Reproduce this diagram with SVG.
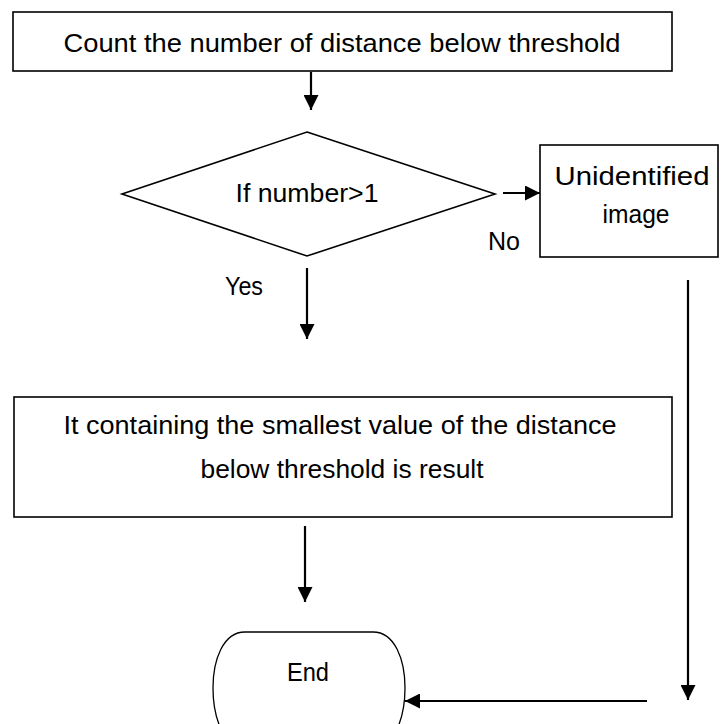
<svg xmlns="http://www.w3.org/2000/svg" width="725" height="724" viewBox="0 0 725 724">
<style>
.box{fill:#fff;stroke:#000;stroke-width:1.6}
.t{font-family:"Liberation Sans",Arial,sans-serif;font-size:26px;fill:#000}
.c{stroke:#000;stroke-width:2.2;fill:none}
</style>
<defs>
<marker id="ah" markerWidth="15" markerHeight="15" refX="15" refY="7.5" orient="auto" markerUnits="userSpaceOnUse" viewBox="0 0 15 15">
<path d="M0,0 L15,7.5 L0,15 Z" fill="#000"/>
</marker>
</defs>
<rect width="725" height="724" fill="#fff"/>
<g id="count">
<rect class="box" x="13" y="12" width="659" height="59"/>
<text class="t" x="342" y="52" text-anchor="middle" textLength="557" lengthAdjust="spacingAndGlyphs">Count the number of distance below threshold</text>
</g>
<g id="decision">
<polygon class="box" points="307,132 495,194 307,256 122,194"/>
<text class="t" x="307" y="202" text-anchor="middle" textLength="143" lengthAdjust="spacingAndGlyphs">If number&gt;1</text>
</g>
<g id="unidentified">
<rect class="box" x="540" y="145" width="178" height="112"/>
<text class="t" x="632" y="185" text-anchor="middle" textLength="155" lengthAdjust="spacingAndGlyphs">Unidentified</text>
<text class="t" x="636" y="223" text-anchor="middle" textLength="67" lengthAdjust="spacingAndGlyphs">image</text>
</g>
<g id="result">
<rect class="box" x="14" y="397" width="658" height="120"/>
<text class="t" x="340" y="434" text-anchor="middle" textLength="553" lengthAdjust="spacingAndGlyphs">It containing the smallest value of the distance</text>
<text class="t" x="342" y="478" text-anchor="middle" textLength="283" lengthAdjust="spacingAndGlyphs">below threshold is result</text>
</g>
<g id="end">
<path class="box" style="stroke-width:1.3" d="M245,632 H373 C395,632 405,660 405,688 C405,716 395,748 373,748 H245 C223,748 213,716 213,688 C213,660 223,632 245,632 Z"/>
<text class="t" x="308" y="681" text-anchor="middle" textLength="42" lengthAdjust="spacingAndGlyphs">End</text>
</g>
<g id="labels">
<text class="t" x="504" y="250" text-anchor="middle" textLength="32" lengthAdjust="spacingAndGlyphs">No</text>
<text class="t" x="244" y="295" text-anchor="middle" textLength="38" lengthAdjust="spacingAndGlyphs">Yes</text>
</g>
<g id="connectors">
<line class="c" x1="311" y1="72" x2="311" y2="110" marker-end="url(#ah)"/>
<line class="c" x1="503" y1="193" x2="540" y2="193" marker-end="url(#ah)"/>
<line class="c" x1="307" y1="268" x2="307" y2="339" marker-end="url(#ah)"/>
<line class="c" x1="305" y1="526" x2="305" y2="602" marker-end="url(#ah)"/>
<line class="c" x1="688" y1="280" x2="688" y2="700" marker-end="url(#ah)"/>
<line class="c" x1="647" y1="701" x2="405" y2="701" marker-end="url(#ah)"/>
</g>
</svg>
